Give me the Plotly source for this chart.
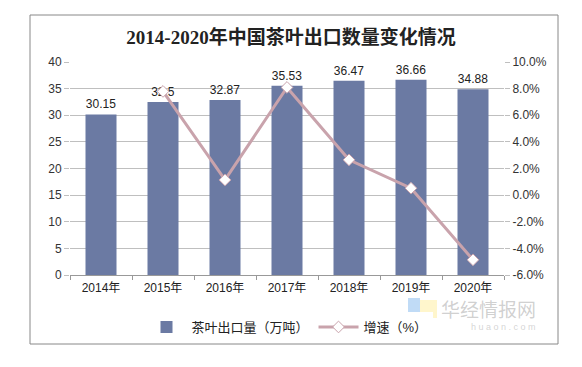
import plotly.graph_objects as go

years = ["2014年", "2015年", "2016年", "2017年", "2018年", "2019年", "2020年"]
export_volume = [30.15, 32.5, 32.87, 35.53, 36.47, 36.66, 34.88]
growth_years = ["2015年", "2016年", "2017年", "2018年", "2019年", "2020年"]
growth_rate = [7.79, 1.14, 8.09, 2.65, 0.52, -4.86]
right_ticks = [-6, -4, -2, 0, 2, 4, 6, 8, 10]

W, H = 582, 367
L, R, T, B = 70, 78, 62, 92
PW, PH = W - L - R, H - T - B


def px(x):
    return (x - L) / PW


def py(y):
    return (H - B - y) / PH


fig = go.Figure()
fig.add_trace(go.Bar(
    x=years, y=export_volume, name="茶叶出口量（万吨）",
    marker=dict(color="#6B7AA3", line=dict(width=0)),
    width=0.5,
    text=[f"{v:g}" for v in export_volume], textposition="outside",
    textfont=dict(family="Arial, Liberation Sans", size=12, color="#222"),
    cliponaxis=False,
))
fig.add_trace(go.Scatter(
    x=growth_years, y=growth_rate, name="增速（%）", yaxis="y2",
    mode="lines+markers",
    line=dict(color="#C9A3AC", width=3),
    marker=dict(symbol="diamond", size=9, color="white", line=dict(color="#C9A3AC", width=1)),
))

fig.update_layout(
    width=W, height=H,
    margin=dict(l=L, r=R, t=T, b=B),
    paper_bgcolor="white", plot_bgcolor="white",
    font=dict(family="Arial, Liberation Sans, Noto Sans CJK SC", size=12, color="#333"),
    title=dict(text="<b>2014-2020年中国茶叶出口数量变化情况</b>",
               x=0.5, xanchor="center", y=1 - 37 / H, yanchor="middle",
               font=dict(family="Liberation Serif, Noto Sans CJK SC", size=19, color="#222")),
    bargap=0.5,
    showlegend=True,
    legend=dict(orientation="h", x=0.5, xanchor="center", y=py(327),
                yanchor="middle", font=dict(size=13, color="#222"),
                traceorder="normal", itemwidth=40),
    xaxis=dict(showline=True, linecolor="#999", ticks="outside", tickson="boundaries",
               ticklen=4, tickcolor="#999", showgrid=False, ticklabelstandoff=2,
               tickfont=dict(size=12, color="#222")),
    yaxis=dict(range=[0, 40], dtick=5, showgrid=True, gridcolor="#BFBFBF", gridwidth=1,
               zeroline=False, showline=False, ticks="outside", ticklen=5, tickcolor="#BFBFBF",
               tickfont=dict(size=12, color="#333")),
    yaxis2=dict(range=[-6, 10], tickvals=right_ticks,
                ticktext=[f"{v:.1f}%" for v in right_ticks],
                overlaying="y", side="right", showgrid=False, zeroline=False,
                ticks="outside", ticklen=5, tickcolor="#BFBFBF",
                tickfont=dict(size=12, color="#333")),
    shapes=[
        dict(type="rect", xref="paper", yref="paper",
             x0=px(30), x1=px(558), y0=py(344), y1=py(15),
             line=dict(color="#888", width=1)),
        dict(type="rect", xref="paper", yref="paper", layer="below",
             x0=px(408), x1=px(420), y0=py(326), y1=py(298),
             fillcolor="rgba(150,195,240,0.6)", line=dict(width=0)),
        dict(type="rect", xref="paper", yref="paper", layer="below",
             x0=px(420), x1=px(437), y0=py(318), y1=py(300),
             fillcolor="rgba(255,240,170,0.6)", line=dict(width=0)),
    ],
    annotations=[
        dict(text="华经情报网", xref="paper", yref="paper",
             x=px(538), y=py(308),
             xanchor="right", yanchor="middle", showarrow=False,
             font=dict(size=19, color="rgba(150,150,150,0.45)", family="Noto Sans CJK SC")),
        dict(text="h u a o n . c o m", xref="paper", yref="paper",
             x=px(538), y=py(327),
             xanchor="right", yanchor="middle", showarrow=False,
             font=dict(size=9, color="rgba(170,170,170,0.5)", family="Arial")),
    ],
)

fig.write_html("out.html", config={"displayModeBar": False},
               post_script="document.body.style.margin='0';")
